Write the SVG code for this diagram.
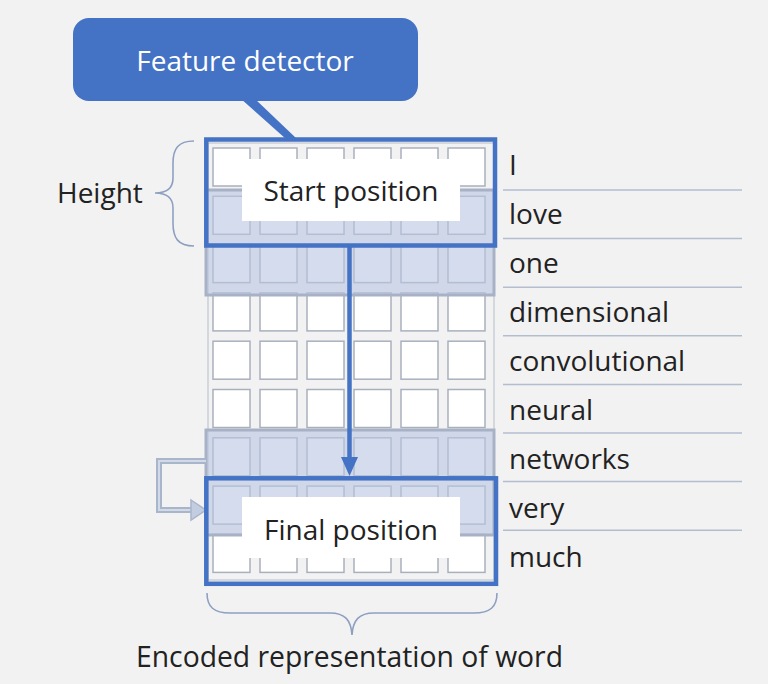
<svg xmlns="http://www.w3.org/2000/svg" width="768" height="684" viewBox="0 0 768 684">
<defs>
<style>
.t{font-family:"Open Sans","Liberation Sans",sans-serif;font-size:28px;fill:#222}
.w{font-family:"Open Sans","Liberation Sans",sans-serif;font-size:28px;fill:#222}
.sq{fill:#fff;stroke:#a9b0bd;stroke-width:1.5}
.sep{stroke:#b3bdd0;stroke-width:1.5}
.shade{fill:#b9c7e2;fill-opacity:0.62;stroke:#a7b2c6;stroke-width:3}
.blue{fill:none;stroke:#4472c4;stroke-width:4.5}
.lab{fill:#fff}
.brace{fill:none;stroke:#8ea0c2;stroke-width:1.6}
</style>
</defs>
<rect x="0" y="0" width="768" height="684" fill="#f2f2f2"/>

<g id="grid">
<rect x="208" y="143" width="286" height="437" fill="none" stroke="#c0c6d0" stroke-width="1.2"/>
<g id="squares">
<rect class="sq" x="213" y="148" width="37" height="38"/><rect class="sq" x="260" y="148" width="37" height="38"/><rect class="sq" x="307" y="148" width="37" height="38"/><rect class="sq" x="354" y="148" width="37" height="38"/><rect class="sq" x="401" y="148" width="37" height="38"/><rect class="sq" x="448" y="148" width="37" height="38"/>
<rect class="sq" x="213" y="196.3" width="37" height="38"/><rect class="sq" x="260" y="196.3" width="37" height="38"/><rect class="sq" x="307" y="196.3" width="37" height="38"/><rect class="sq" x="354" y="196.3" width="37" height="38"/><rect class="sq" x="401" y="196.3" width="37" height="38"/><rect class="sq" x="448" y="196.3" width="37" height="38"/>
<rect class="sq" x="213" y="244.6" width="37" height="38"/><rect class="sq" x="260" y="244.6" width="37" height="38"/><rect class="sq" x="307" y="244.6" width="37" height="38"/><rect class="sq" x="354" y="244.6" width="37" height="38"/><rect class="sq" x="401" y="244.6" width="37" height="38"/><rect class="sq" x="448" y="244.6" width="37" height="38"/>
<rect class="sq" x="213" y="292.9" width="37" height="38"/><rect class="sq" x="260" y="292.9" width="37" height="38"/><rect class="sq" x="307" y="292.9" width="37" height="38"/><rect class="sq" x="354" y="292.9" width="37" height="38"/><rect class="sq" x="401" y="292.9" width="37" height="38"/><rect class="sq" x="448" y="292.9" width="37" height="38"/>
<rect class="sq" x="213" y="341.2" width="37" height="38"/><rect class="sq" x="260" y="341.2" width="37" height="38"/><rect class="sq" x="307" y="341.2" width="37" height="38"/><rect class="sq" x="354" y="341.2" width="37" height="38"/><rect class="sq" x="401" y="341.2" width="37" height="38"/><rect class="sq" x="448" y="341.2" width="37" height="38"/>
<rect class="sq" x="213" y="389.5" width="37" height="38"/><rect class="sq" x="260" y="389.5" width="37" height="38"/><rect class="sq" x="307" y="389.5" width="37" height="38"/><rect class="sq" x="354" y="389.5" width="37" height="38"/><rect class="sq" x="401" y="389.5" width="37" height="38"/><rect class="sq" x="448" y="389.5" width="37" height="38"/>
<rect class="sq" x="213" y="437.8" width="37" height="38"/><rect class="sq" x="260" y="437.8" width="37" height="38"/><rect class="sq" x="307" y="437.8" width="37" height="38"/><rect class="sq" x="354" y="437.8" width="37" height="38"/><rect class="sq" x="401" y="437.8" width="37" height="38"/><rect class="sq" x="448" y="437.8" width="37" height="38"/>
<rect class="sq" x="213" y="486.1" width="37" height="38"/><rect class="sq" x="260" y="486.1" width="37" height="38"/><rect class="sq" x="307" y="486.1" width="37" height="38"/><rect class="sq" x="354" y="486.1" width="37" height="38"/><rect class="sq" x="401" y="486.1" width="37" height="38"/><rect class="sq" x="448" y="486.1" width="37" height="38"/>
<rect class="sq" x="213" y="534.4" width="37" height="38"/><rect class="sq" x="260" y="534.4" width="37" height="38"/><rect class="sq" x="307" y="534.4" width="37" height="38"/><rect class="sq" x="354" y="534.4" width="37" height="38"/><rect class="sq" x="401" y="534.4" width="37" height="38"/><rect class="sq" x="448" y="534.4" width="37" height="38"/>
</g>
<rect id="shade-mid" class="shade" x="206" y="190" width="288" height="105"/>
<rect id="shade-prev" class="shade" x="206" y="430" width="288" height="105"/>
</g>

<g id="words">
<line class="sep" x1="503" y1="190" x2="742" y2="190"/>
<line class="sep" x1="503" y1="238.6" x2="742" y2="238.6"/>
<line class="sep" x1="503" y1="287.2" x2="742" y2="287.2"/>
<line class="sep" x1="503" y1="335.8" x2="742" y2="335.8"/>
<line class="sep" x1="503" y1="384.4" x2="742" y2="384.4"/>
<line class="sep" x1="503" y1="433" x2="742" y2="433"/>
<line class="sep" x1="503" y1="481.6" x2="742" y2="481.6"/>
<line class="sep" x1="503" y1="530.2" x2="742" y2="530.2"/>
<text class="w" x="509" y="175">I</text>
<text class="w" x="509" y="224">love</text>
<text class="w" x="509" y="273">one</text>
<text class="w" x="509" y="322">dimensional</text>
<text class="w" x="509" y="371">convolutional</text>
<text class="w" x="509" y="420">neural</text>
<text class="w" x="509" y="469">networks</text>
<text class="w" x="509" y="518">very</text>
<text class="w" x="509" y="567">much</text>
</g>

<g id="height">
<path class="brace" d="M194,141 C178,141 173,149 173,163 L173,178 C173,189 166,193 155,193 C166,193 173,197 173,208 L173,223 C173,238 178,246 194,246"/>
<text class="t" x="57" y="203">Height</text>
</g>

<g id="encoded">
<path class="brace" d="M207,593 C207,607 214,613 230,613 L330,613 C345,613 351,620 352,635 C353,620 359,613 374,613 L474,613 C490,613 497,607 497,593"/>
<text class="t" x="136" y="667" style="font-size:28.3px">Encoded representation of word</text>
</g>

<g id="connectors">
<path d="M206,461 L159,461 L159,510 L193,510" fill="none" stroke="#a9b5cb" stroke-width="6"/>
<path d="M206,461 L159,461 L159,510 L193,510" fill="none" stroke="#d3dae7" stroke-width="2"/>
<polygon points="191,500 206,510 191,520" fill="#c3cde0" stroke="#a9b5cb" stroke-width="1.5"/>
<line x1="349.5" y1="247" x2="349.5" y2="460" stroke="#4472c4" stroke-width="4.5"/>
<polygon points="341,457 358,457 349.5,476" fill="#4472c4"/>
</g>

<g id="start">
<rect class="blue" x="206.3" y="139.5" width="288.7" height="106"/>
<rect class="lab" x="242" y="159" width="218" height="62"/>
<text class="t" x="351" y="201" text-anchor="middle">Start position</text>
</g>

<g id="final">
<rect class="blue" x="206.3" y="478.3" width="289.7" height="105.5"/>
<rect class="lab" x="242" y="497" width="218" height="61"/>
<text class="t" x="351" y="540" text-anchor="middle">Final position</text>
</g>

<g id="detector">
<polygon points="240,98 254,98 297,139 286,139" fill="#4472c4"/>
<rect x="73" y="18" width="345" height="83" rx="16" fill="#4472c4"/>
<text class="t" x="245" y="71" text-anchor="middle" style="fill:#fff">Feature detector</text>
</g>
</svg>
